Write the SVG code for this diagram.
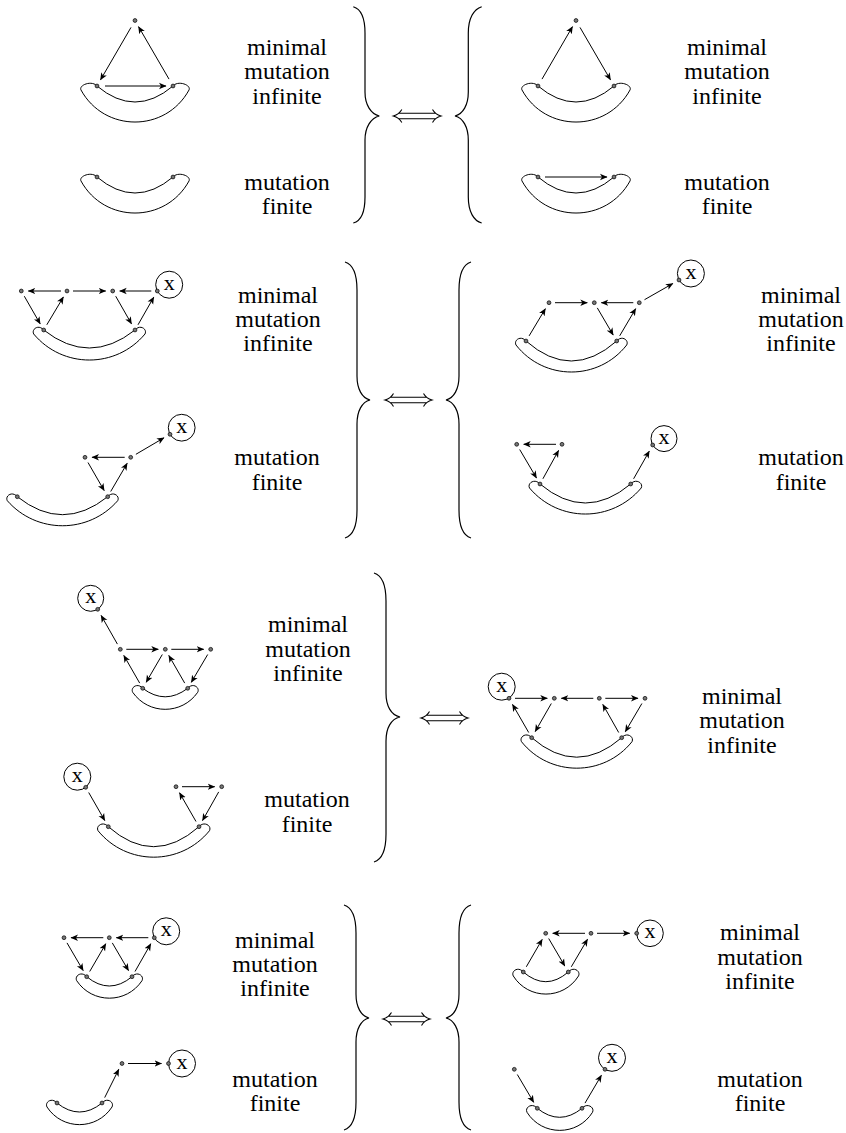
<svg xmlns="http://www.w3.org/2000/svg" width="846" height="1133" viewBox="0 0 846 1133">
<defs>
<style>
.v{fill:#777;stroke:#111;stroke-width:0.8}
.ban{fill:none;stroke:#000;stroke-width:1}
.xc{fill:#fff;stroke:#000;stroke-width:1}
.e{stroke:#000;stroke-width:1;fill:none;marker-end:url(#ah)}
.br{fill:none;stroke:#000;stroke-width:1.2}
.t{font-family:'Liberation Serif','DejaVu Serif',serif;font-size:24px;text-anchor:middle;fill:#000}
.tx{font-family:'Liberation Serif','DejaVu Serif',serif;font-size:22px;text-anchor:middle;fill:#000}
</style>
<marker id="ah" markerUnits="userSpaceOnUse" markerWidth="8" markerHeight="8" viewBox="0 0 8 8" refX="7" refY="4" orient="auto"><path d="M0,0.8 L7.5,4 L0,7.2 L2,4 Z" fill="#000"/></marker>
</defs>
<rect width="846" height="1133" fill="#fff"/>

<g id="bananas">
<path id="b1" class="ban" d="M97 86 Q135 118 173 86 C178 80 191.5 85 189 90 C165.6 132.7 104.4 132.7 81 90 C78.5 85 92 80 97 86Z"/>
<path id="b2" class="ban" d="M97 177 Q135 209 173 177 C178 171 191.5 176 189 181 C165.6 223.7 104.4 223.7 81 181 C78.5 176 92 171 97 177Z"/>
<path id="b3" class="ban" d="M538 86 Q576 118 614 86 C619 80 632.5 85 630 90 C606.6 132.7 545.4 132.7 522 90 C519.5 85 533 80 538 86Z"/>
<path id="b4" class="ban" d="M538 177 Q576 209 614 177 C619 171 632.5 176 630 181 C606.6 223.7 545.4 223.7 522 181 C519.5 176 533 171 538 177Z"/>
<path id="b5" class="ban" d="M43.7 330 Q89.35 366 135 330 C140 324 147.5 329 145 334 C116 368.7 62.7 368.7 33.7 334 C31.2 329 38.7 324 43.7 330Z"/>
<path id="b6" class="ban" d="M526 341 Q571.35 381 616.7 341 C621.7 335 629.2 340 626.7 345 C598.5 381 544.2 381 516 345 C513.5 340 521 335 526 341Z"/>
<path id="b7" class="ban" d="M17.3 496.7 Q62.5 532.7 107.7 496.7 C112.7 490.7 120.2 495.7 117.7 500.7 C88.5 534.1 36.5 534.1 7.3 500.7 C4.8 495.7 12.3 490.7 17.3 496.7Z"/>
<path id="b8" class="ban" d="M540 484 Q585.35 522 630.7 484 C635.7 478 643.7 483 641.2 488 C611.9 522.7 558.8 522.7 529.5 488 C527 483 535 478 540 484Z"/>
<path id="b9" class="ban" d="M142.7 688.3 Q165.2 705.3 187.7 688.3 C192.7 682.3 200.2 687.3 197.7 692.3 C181.9 715 148.5 715 132.7 692.3 C130.2 687.3 137.7 682.3 142.7 688.3Z"/>
<path id="b10" class="ban" d="M108.3 826.7 Q153.65 866.7 199 826.7 C204 820.7 212 825.7 209.5 830.7 C180.7 866 126.8 866 98 830.7 C95.5 825.7 103.3 820.7 108.3 826.7Z"/>
<path id="b11" class="ban" d="M531.7 737.7 Q576.7 776.7 621.7 737.7 C626.7 731.7 634.5 736.7 632 741.7 C603.7 777 549.8 777 521.5 741.7 C519 736.7 526.7 731.7 531.7 737.7Z"/>
<path id="b12" class="ban" d="M86.7 976.7 Q109.35 995.3 132 976.7 C137 970.7 144.5 975.7 142 980.7 C126.5 1004 92.2 1004 76.7 980.7 C74.2 975.7 81.7 970.7 86.7 976.7Z"/>
<path id="b13" class="ban" d="M523.3 972 Q545.8 991.4 568.3 972 C573.3 966 581 971 578.5 976 C563.4 1000.1 528.4 1000.1 513.3 976 C510.8 971 518.3 966 523.3 972Z"/>
<path id="b14" class="ban" d="M537.3 1108.3 Q559.65 1126.3 582 1108.3 C587 1102.3 595 1107.3 592.5 1112.3 C577.4 1136.4 542.1 1136.4 527 1112.3 C524.5 1107.3 532.3 1102.3 537.3 1108.3Z"/>
<path id="b15" class="ban" d="M57 1103 Q79.5 1121 102 1103 C107 1097 114.5 1102 112 1107 C96.7 1130.5 62.3 1130.5 47 1107 C44.5 1102 52 1097 57 1103Z"/>
</g>

<g id="connectors">
<line class="e" x1="131" y1="27.4" x2="100.5" y2="79.9"/>
<line class="e" x1="169" y1="79.1" x2="138.5" y2="26.6"/>
<line class="e" x1="105" y1="86" x2="166" y2="86"/>
<line class="e" x1="542" y1="79.1" x2="572.5" y2="26.6"/>
<line class="e" x1="580" y1="27.4" x2="610.5" y2="79.9"/>
<line class="e" x1="545" y1="177" x2="607" y2="177"/>
<line class="e" x1="61" y1="291" x2="28.3" y2="291"/>
<line class="e" x1="73" y1="291" x2="105.7" y2="291"/>
<line class="e" x1="151.3" y1="291" x2="119.7" y2="291"/>
<line class="e" x1="24.3" y1="296.2" x2="40.2" y2="323.9"/>
<line class="e" x1="46.8" y1="324.8" x2="63.4" y2="297"/>
<line class="e" x1="115.7" y1="296.2" x2="131.5" y2="323.9"/>
<line class="e" x1="138" y1="324.8" x2="153.8" y2="297.1"/>
<line class="e" x1="124.7" y1="457.3" x2="92" y2="457.3"/>
<line class="e" x1="88" y1="462.5" x2="104.2" y2="490.6"/>
<line class="e" x1="110.7" y1="491.5" x2="127.2" y2="463.3"/>
<line class="e" x1="135.9" y1="454.3" x2="164" y2="437.8"/>
<line class="e" x1="529.1" y1="335.9" x2="545.4" y2="308.7"/>
<line class="e" x1="555" y1="302.7" x2="587.3" y2="302.7"/>
<line class="e" x1="633.3" y1="302.7" x2="601.3" y2="302.7"/>
<line class="e" x1="597.3" y1="307.9" x2="613.2" y2="335"/>
<line class="e" x1="619.7" y1="335.8" x2="635.7" y2="308.7"/>
<line class="e" x1="644.5" y1="299.7" x2="672.9" y2="283.5"/>
<line class="e" x1="556" y1="444.3" x2="523.7" y2="444.3"/>
<line class="e" x1="519.7" y1="449.5" x2="536.5" y2="478"/>
<line class="e" x1="542.9" y1="478.8" x2="558.6" y2="450.4"/>
<line class="e" x1="633.6" y1="478.8" x2="649.3" y2="451.1"/>
<line class="e" x1="117.4" y1="644.1" x2="101.1" y2="615.4"/>
<line class="e" x1="126.3" y1="649.3" x2="158.3" y2="649.3"/>
<line class="e" x1="171.3" y1="649.3" x2="203.7" y2="649.3"/>
<line class="e" x1="139.7" y1="683.1" x2="123.8" y2="655.4"/>
<line class="e" x1="162.3" y1="654.5" x2="146.2" y2="682.2"/>
<line class="e" x1="184.7" y1="683.1" x2="168.8" y2="655.4"/>
<line class="e" x1="207.7" y1="654.5" x2="191.3" y2="682.3"/>
<line class="e" x1="88.7" y1="792.5" x2="104.8" y2="820.6"/>
<line class="e" x1="182" y1="786.7" x2="214.7" y2="786.7"/>
<line class="e" x1="196" y1="821.5" x2="179.5" y2="792.8"/>
<line class="e" x1="218.7" y1="791.9" x2="202.5" y2="820.6"/>
<line class="e" x1="515" y1="698.3" x2="547.3" y2="698.3"/>
<line class="e" x1="593.3" y1="698.3" x2="561.3" y2="698.3"/>
<line class="e" x1="605.3" y1="698.3" x2="638" y2="698.3"/>
<line class="e" x1="528.7" y1="732.5" x2="512.5" y2="704.4"/>
<line class="e" x1="551.3" y1="703.5" x2="535.2" y2="731.6"/>
<line class="e" x1="618.7" y1="732.5" x2="602.8" y2="704.4"/>
<line class="e" x1="641.9" y1="703.5" x2="625.3" y2="731.7"/>
<line class="e" x1="103.3" y1="937.7" x2="71" y2="937.7"/>
<line class="e" x1="148.3" y1="937.7" x2="116.3" y2="937.7"/>
<line class="e" x1="67" y1="942.9" x2="83.2" y2="970.6"/>
<line class="e" x1="89.7" y1="971.5" x2="105.8" y2="943.8"/>
<line class="e" x1="112.3" y1="942.9" x2="128.5" y2="970.6"/>
<line class="e" x1="135" y1="971.5" x2="150.8" y2="943.8"/>
<line class="e" x1="128" y1="1063.5" x2="161.5" y2="1063.5"/>
<line class="e" x1="104.7" y1="1097.6" x2="118.8" y2="1069.3"/>
<line class="e" x1="585" y1="933.3" x2="552.7" y2="933.3"/>
<line class="e" x1="597" y1="933.3" x2="629.7" y2="933.3"/>
<line class="e" x1="526.3" y1="966.8" x2="542.2" y2="939.4"/>
<line class="e" x1="548.7" y1="938.5" x2="564.8" y2="966"/>
<line class="e" x1="571.3" y1="966.8" x2="587.5" y2="939.3"/>
<line class="e" x1="517.3" y1="1074.5" x2="533.7" y2="1102.3"/>
<line class="e" x1="585" y1="1103.1" x2="601.4" y2="1075.3"/>
</g>

<g id="xnodes">
<g id="x5"><circle class="xc" cx="169.2" cy="284.7" r="13.5"/><text class="tx" x="169.2" y="289.7">x</text></g>
<g id="x6"><circle class="xc" cx="181.7" cy="427.7" r="13.4"/><text class="tx" x="181.7" y="432.7">x</text></g>
<g id="x7"><circle class="xc" cx="690.9" cy="273.5" r="13.5"/><text class="tx" x="690.9" y="278.5">x</text></g>
<g id="x8"><circle class="xc" cx="664" cy="438.6" r="13"/><text class="tx" x="664" y="443.6">x</text></g>
<g id="x9"><circle class="xc" cx="90.7" cy="598.3" r="13"/><text class="tx" x="90.7" y="603.3">x</text></g>
<g id="x10"><circle class="xc" cx="77.3" cy="776.7" r="13.5"/><text class="tx" x="77.3" y="781.7">x</text></g>
<g id="x11"><circle class="xc" cx="501.7" cy="686.7" r="13.5"/><text class="tx" x="501.7" y="691.7">x</text></g>
<g id="x12"><circle class="xc" cx="166.2" cy="931.3" r="13.5"/><text class="tx" x="166.2" y="936.3">x</text></g>
<g id="x13"><circle class="xc" cx="182" cy="1063.5" r="13.5"/><text class="tx" x="182" y="1068.5">x</text></g>
<g id="x14"><circle class="xc" cx="650" cy="933.3" r="13.3"/><text class="tx" x="650" y="938.3">x</text></g>
<g id="x15"><circle class="xc" cx="612" cy="1057.8" r="13.5"/><text class="tx" x="612" y="1062.8">x</text></g>
</g>

<g id="vertices">
<g id="d1"><circle class="v" cx="135" cy="20.5" r="1.9"/><circle class="v" cx="97" cy="86" r="1.9"/><circle class="v" cx="173" cy="86" r="1.9"/></g>
<g id="d2"><circle class="v" cx="97" cy="177" r="1.9"/><circle class="v" cx="173" cy="177" r="1.9"/></g>
<g id="d3"><circle class="v" cx="576" cy="20.5" r="1.9"/><circle class="v" cx="538" cy="86" r="1.9"/><circle class="v" cx="614" cy="86" r="1.9"/></g>
<g id="d4"><circle class="v" cx="538" cy="177" r="1.9"/><circle class="v" cx="614" cy="177" r="1.9"/></g>
<g id="d5"><circle class="v" cx="21.3" cy="291" r="1.9"/><circle class="v" cx="67" cy="291" r="1.9"/><circle class="v" cx="112.7" cy="291" r="1.9"/><circle class="v" cx="157.3" cy="291" r="1.9"/><circle class="v" cx="43.7" cy="330" r="1.9"/><circle class="v" cx="135" cy="330" r="1.9"/></g>
<g id="d6"><circle class="v" cx="85" cy="457.3" r="1.9"/><circle class="v" cx="130.7" cy="457.3" r="1.9"/><circle class="v" cx="170" cy="434.3" r="1.9"/><circle class="v" cx="17.3" cy="496.7" r="1.9"/><circle class="v" cx="107.7" cy="496.7" r="1.9"/></g>
<g id="d7"><circle class="v" cx="549" cy="302.7" r="1.9"/><circle class="v" cx="594.3" cy="302.7" r="1.9"/><circle class="v" cx="639.3" cy="302.7" r="1.9"/><circle class="v" cx="679" cy="280" r="1.9"/><circle class="v" cx="526" cy="341" r="1.9"/><circle class="v" cx="616.7" cy="341" r="1.9"/></g>
<g id="d8"><circle class="v" cx="516.7" cy="444.3" r="1.9"/><circle class="v" cx="562" cy="444.3" r="1.9"/><circle class="v" cx="652.7" cy="445" r="1.9"/><circle class="v" cx="540" cy="484" r="1.9"/><circle class="v" cx="630.7" cy="484" r="1.9"/></g>
<g id="d9"><circle class="v" cx="97.7" cy="609.3" r="1.9"/><circle class="v" cx="120.3" cy="649.3" r="1.9"/><circle class="v" cx="165.3" cy="649.3" r="1.9"/><circle class="v" cx="210.7" cy="649.3" r="1.9"/><circle class="v" cx="142.7" cy="688.3" r="1.9"/><circle class="v" cx="187.7" cy="688.3" r="1.9"/></g>
<g id="d10"><circle class="v" cx="85.7" cy="787.3" r="1.9"/><circle class="v" cx="176" cy="786.7" r="1.9"/><circle class="v" cx="221.7" cy="786.7" r="1.9"/><circle class="v" cx="108.3" cy="826.7" r="1.9"/><circle class="v" cx="199" cy="826.7" r="1.9"/></g>
<g id="d11"><circle class="v" cx="509" cy="698.3" r="1.9"/><circle class="v" cx="554.3" cy="698.3" r="1.9"/><circle class="v" cx="599.3" cy="698.3" r="1.9"/><circle class="v" cx="645" cy="698.3" r="1.9"/><circle class="v" cx="531.7" cy="737.7" r="1.9"/><circle class="v" cx="621.7" cy="737.7" r="1.9"/></g>
<g id="d12"><circle class="v" cx="64" cy="937.7" r="1.9"/><circle class="v" cx="109.3" cy="937.7" r="1.9"/><circle class="v" cx="154.3" cy="937.7" r="1.9"/><circle class="v" cx="86.7" cy="976.7" r="1.9"/><circle class="v" cx="132" cy="976.7" r="1.9"/></g>
<g id="d13"><circle class="v" cx="122" cy="1063.5" r="1.9"/><circle class="v" cx="168.5" cy="1063.5" r="1.9"/><circle class="v" cx="57" cy="1103" r="1.9"/><circle class="v" cx="102" cy="1103" r="1.9"/></g>
<g id="d14"><circle class="v" cx="545.7" cy="933.3" r="1.9"/><circle class="v" cx="591" cy="933.3" r="1.9"/><circle class="v" cx="636.7" cy="933.3" r="1.9"/><circle class="v" cx="523.3" cy="972" r="1.9"/><circle class="v" cx="568.3" cy="972" r="1.9"/></g>
<g id="d15"><circle class="v" cx="514.3" cy="1069.3" r="1.9"/><circle class="v" cx="605" cy="1069.3" r="1.9"/><circle class="v" cx="537.3" cy="1108.3" r="1.9"/><circle class="v" cx="582" cy="1108.3" r="1.9"/></g>
</g>

<g id="braces">
<path class="br" d="M353.3 6.7 C361 9 365 18 365 33 L365 92 C365 105 371 114 379.3 116 C371 118 365 127 365 140 L365 197 C365 212 361 221 353.3 223"/>
<path class="br" d="M481.7 6.7 C474 9 468.3 18 468.3 33 L468.3 92 C468.3 105 463 114 455 116 C463 118 468.3 127 468.3 140 L468.3 197 C468.3 212 474 221 481.7 223"/>
<path class="br" d="M345 262 C353 264.5 357 274 357 290 L357 376 C357 389 362 398 370 400 C362 402 357 411 357 424 L357 510 C357 526 353 535.5 345 538"/>
<path class="br" d="M471 262 C463 264.5 459 274 459 290 L459 376 C459 389 454 398 446 400 C454 402 459 411 459 424 L459 510 C459 526 463 535.5 471 538"/>
<path class="br" d="M374 573 C382 575.5 386 585 386 601 L386 693 C386 706 391 715 400 717 C391 719 386 728 386 741 L386 834 C386 850 382 859.5 374 862"/>
<path class="br" d="M344 905 C352 907.5 356 917 356 933 L356 994 C356 1007 361 1016 369 1018 C361 1020 356 1029 356 1042 L356 1102 C356 1118 352 1127.5 344 1130"/>
<path class="br" d="M471 905 C463 907.5 459 917 459 933 L459 994 C459 1007 454 1016 446 1018 C454 1020 459 1029 459 1042 L459 1102 C459 1118 463 1127.5 471 1130"/>
</g>

<g id="iff" fill="none" stroke="#000" stroke-width="1.1">
<path d="M401.8 109.5 C399.8 113 396.8 115 393.3 116 C396.8 117 399.8 119 401.8 122.5 M432.5 109.5 C434.5 113 437.5 115 441 116 C437.5 117 434.5 119 432.5 122.5 M398.5 113.3 H435.8 M398.5 118.7 H435.8"/>
<path d="M393.5 393.5 C391.5 397 388.5 399 385 400 C388.5 401 391.5 403 393.5 406.5 M423.5 393.5 C425.5 397 428.5 399 432 400 C428.5 401 425.5 403 423.5 406.5 M390.2 397.3 H426.8 M390.2 402.7 H426.8"/>
<path d="M429.5 711.5 C427.5 715 424.5 717 421 718 C424.5 719 427.5 721 429.5 724.5 M459.5 711.5 C461.5 715 464.5 717 468 718 C464.5 719 461.5 721 459.5 724.5 M426.2 715.3 H462.8 M426.2 720.7 H462.8"/>
<path d="M391.5 1012.5 C389.5 1016 386.5 1018 383 1019 C386.5 1020 389.5 1022 391.5 1025.5 M421.5 1012.5 C423.5 1016 426.5 1018 430 1019 C426.5 1020 423.5 1022 421.5 1025.5 M388.2 1016.3 H424.8 M388.2 1021.7 H424.8"/>
</g>

<g id="labels">
<text class="t" x="287" y="55">minimal</text><text class="t" x="287" y="79">mutation</text><text class="t" x="287" y="104">infinite</text>
<text class="t" x="287" y="190">mutation</text><text class="t" x="287" y="214">finite</text>
<text class="t" x="727" y="55">minimal</text><text class="t" x="727" y="79">mutation</text><text class="t" x="727" y="104">infinite</text>
<text class="t" x="727" y="190">mutation</text><text class="t" x="727" y="214">finite</text>
<text class="t" x="278" y="303">minimal</text><text class="t" x="278" y="327">mutation</text><text class="t" x="278" y="351">infinite</text>
<text class="t" x="277" y="465">mutation</text><text class="t" x="277" y="490">finite</text>
<text class="t" x="801" y="303">minimal</text><text class="t" x="801" y="327">mutation</text><text class="t" x="801" y="351">infinite</text>
<text class="t" x="801" y="465">mutation</text><text class="t" x="801" y="490">finite</text>
<text class="t" x="308" y="632">minimal</text><text class="t" x="308" y="657">mutation</text><text class="t" x="308" y="681">infinite</text>
<text class="t" x="307" y="807">mutation</text><text class="t" x="307" y="832">finite</text>
<text class="t" x="742" y="704">minimal</text><text class="t" x="742" y="728">mutation</text><text class="t" x="742" y="753">infinite</text>
<text class="t" x="275" y="948">minimal</text><text class="t" x="275" y="972">mutation</text><text class="t" x="275" y="996">infinite</text>
<text class="t" x="275" y="1087">mutation</text><text class="t" x="275" y="1111">finite</text>
<text class="t" x="760" y="940">minimal</text><text class="t" x="760" y="965">mutation</text><text class="t" x="760" y="989">infinite</text>
<text class="t" x="760" y="1087">mutation</text><text class="t" x="760" y="1111">finite</text>
</g>
</svg>
